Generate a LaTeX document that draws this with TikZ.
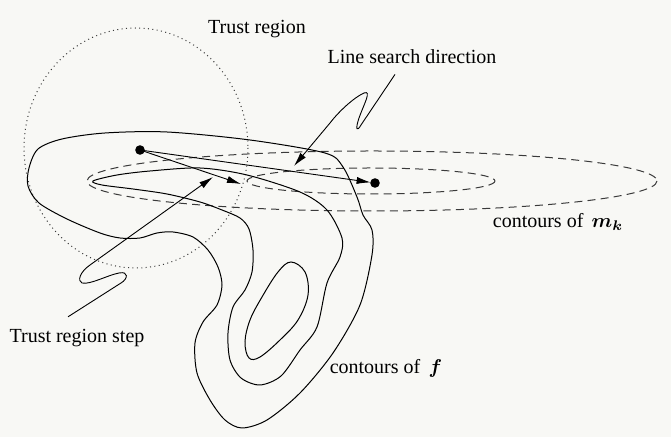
\documentclass[tikz,border=0pt]{standalone}
\usepackage{fontspec}
\setmainfont{Liberation Serif}
\usepackage{bm}
\usetikzlibrary{arrows.meta, positioning}

\begin{document}
\begin{tikzpicture}[x=0.5pt, y=-0.5pt, >={Latex[length=7pt, width=3.6pt]}]
    % Define colours
    \definecolor{lineColour}{HTML}{000000}
    \definecolor{modelColour}{HTML}{3A3A3A}
    \definecolor{paperColour}{HTML}{F8F8F5}

    % Define styles
    \tikzset{
        fcontour/.style={draw=lineColour, line width=0.5pt},
        mcontour/.style={draw=modelColour, line width=0.5pt, dash pattern=on 4pt off 2.6pt},
        region/.style={draw=modelColour, line width=0.5pt, dash pattern=on 0.5pt off 1.7pt},
        pointer/.style={draw=lineColour, line width=0.45pt, ->},
        textbox/.style={inner sep=0pt, font=\normalsize}
    }

    % Fix the frame
    \fill[paperColour] (0,0) rectangle (671,437);
    \useasboundingbox (0,0) rectangle (671,437);

    % Draw the trust region
    \draw[region] (136,148) ellipse [x radius=112, y radius=120];

    % Draw contours of the model
    \draw[mcontour] (372,181) ellipse [x radius=285, y radius=30];
    \draw[mcontour] (371,181) ellipse [x radius=124, y radius=13];

    % Draw contours of f
    \draw[fcontour] plot[smooth cycle, tension=0.5] coordinates {
        (38,149) (62,139) (105,133) (167,132) (250,140) (325,153)
        (343,167) (357,197) (363,215) (372,230) (372,255) (360,305)
        (333,353) (300,393) (267,420) (242,428) (225,420) (210,400)
        (197,373) (195,343) (203,322) (217,305) (222,285) (218,267)
        (208,250) (193,237) (173,232) (157,233) (140,238) (120,238)
        (100,233) (67,219) (39,203) (28,186) (29,168)};
    \draw[fcontour] plot[smooth cycle, tension=0.5] coordinates {
        (93,181) (117,175) (150,171) (200,168) (247,175) (300,192)
        (327,210) (342,238) (340,257) (327,283) (317,327) (300,350)
        (281,376) (260,385) (241,378) (230,360) (228,333) (233,307)
        (245,290) (252,272) (253,250) (249,229) (240,218) (222,210)
        (200,202) (167,194) (133,189) (102,185)};
    \draw[fcontour] plot[smooth cycle, tension=0.6] coordinates {
        (291,262) (305,272) (308,295) (298,320) (280,340) (260,357)
        (249,358) (245,342) (250,320) (262,297) (278,272)};

    % Define the points
    \coordinate (xk) at (140,150);
    \coordinate (xls) at (375,183);
    \coordinate (xtr) at (241,184);

    % Draw the steps
    \draw[pointer] (xk) -- (xtr);
    \draw[pointer, shorten >=2.2pt] (xk) -- (xls);
    \fill[lineColour] (xk) circle[radius=2.4pt];
    \fill[lineColour] (xls) circle[radius=2.4pt];

    % Label the parts
    \node[textbox] (trustLabel) at (257,29) {Trust region};
    \node[textbox] (lineLabel) at (412,57) {Line search direction};
    \node[textbox] (stepLabel) at (77,338) {Trust region step};
    \node[textbox] (modelLabel) at (558,222) {contours of\ \,$\bm{m_k}$};
    \node[textbox] (funcLabel) at (386,368) {contours of\ \,$\bm{f}$};

    % Draw the pointers
    \coordinate (lineFoot) at ([xshift=-8.5pt, yshift=-5pt]lineLabel.south);
    \coordinate (lineTip) at (294,166);
    \draw[pointer] (lineFoot) -- (361,125)
        .. controls (357,132) and (355,130) .. (359,118)
        .. controls (364,104) and (372,90) .. (364,93)
        .. controls (355,97) and (340,110) .. (330,123)
        -- (lineTip);

    \coordinate (stepFoot) at ([xshift=-4.5pt, yshift=6pt]stepLabel.north);
    \coordinate (stepTip) at (213,177);
    \draw[pointer] (stepFoot) -- (121,283)
        .. controls (128,279) and (129,271) .. (119,273)
        .. controls (108,275) and (90,285) .. (82,283)
        .. controls (77,281) and (80,272) .. (90,265)
        -- (stepTip);
\end{tikzpicture}
\end{document}
